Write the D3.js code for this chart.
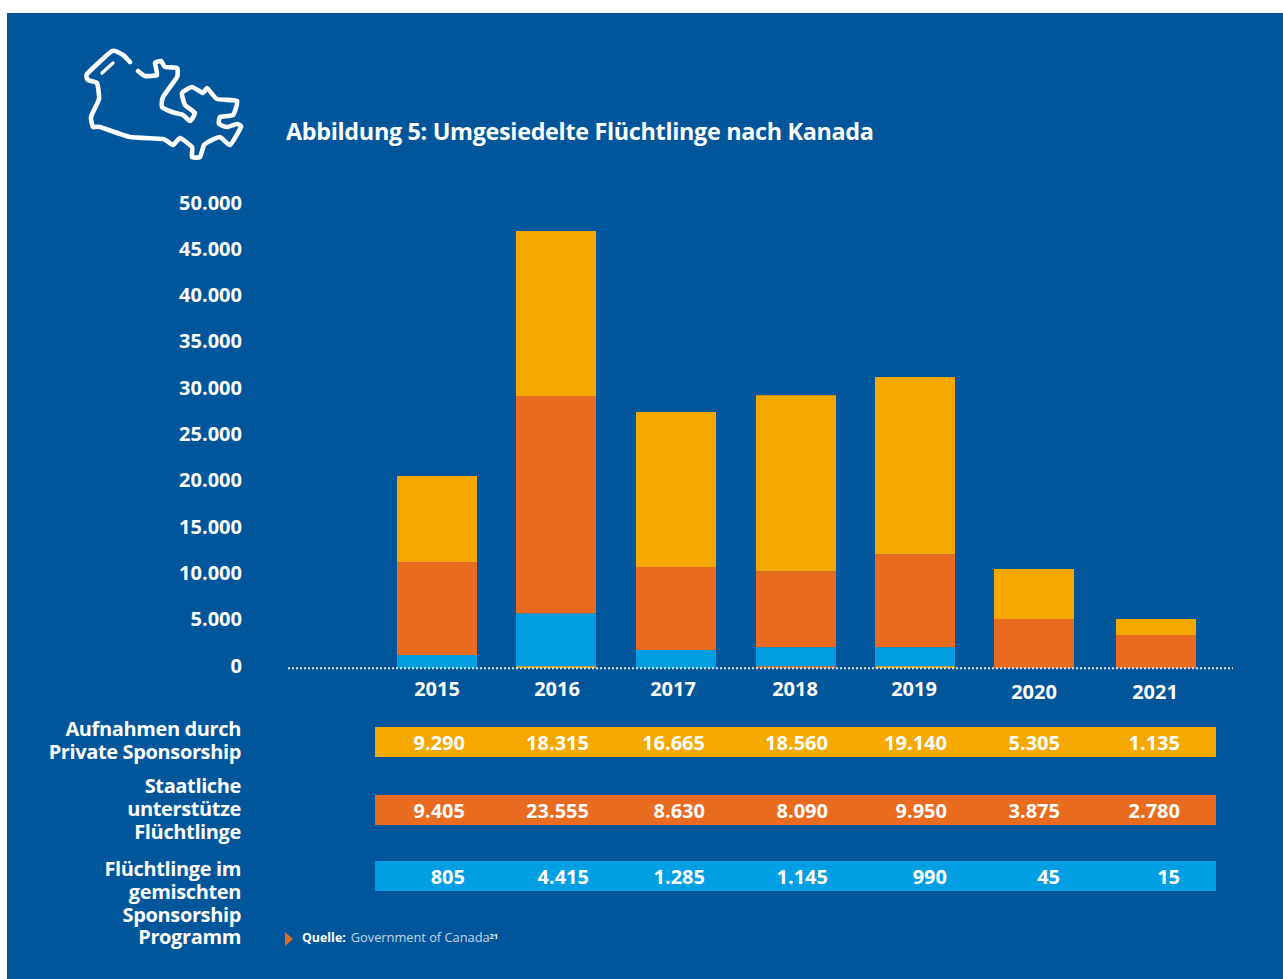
<!DOCTYPE html>
<html><head><meta charset="utf-8">
<script src="https://cdn.jsdelivr.net/npm/d3@7/dist/d3.min.js"></script>
<style>html,body{margin:0;padding:0;background:#fff}svg{display:block}text{font-family:"Open Sans",sans-serif}</style>
</head><body><svg id="c" width="1283" height="979"></svg>
<script>
const years = ["2015","2016","2017","2018","2019","2020","2021"];
const yTicks = [0,5000,10000,15000,20000,25000,30000,35000,40000,45000,50000];
// Heights of the drawn bars (they differ from the table)
const barSliverYellow = [0,200,0,0,200,0,0];
const barSliverOrange = [0,0,0,200,0,0,0];
const barBlue   = [1400,5700,1950,2050,2050,0,0];
const barOrange = [10040,23470,8960,8210,10050,5290,3560];
const barYellow = [9290,17820,16740,19000,19120,5400,1730];
// Table values
const tablePrivate = ["9.290","18.315","16.665","18.560","19.140","5.305","1.135"];
const tableState   = ["9.405","23.555","8.630","8.090","9.950","3.875","2.780"];
const tableMixed   = ["805","4.415","1.285","1.145","990","45","15"];
const rowLabels = [
  ["Aufnahmen durch","Private Sponsorship"],
  ["Staatliche","unterstütze","Flüchtlinge"],
  ["Flüchtlinge im","gemischten","Sponsorship","Programm"]];
const title = "Abbildung 5: Umgesiedelte Flüchtlinge nach Kanada";
const mapOutline = [[130,62],[123,55],[112,51],[87,74],[88,80],[97,83],[99,99],[91,117],[93,127],[100,127],[130,137],[163,139],[173,145],[180,138],[192,147],[192,157],[200,157],[204,145],[210,141],[220,137],[230,145],[241,127],[237,124],[227,127],[219,124],[220,117],[233,115],[237,101],[217,99],[207,88],[203,93],[192,87],[182,93],[185,105],[195,113],[190,121],[183,115],[172,112],[162,107],[163,97],[177,77],[177,68],[165,67],[161,61],[155,63],[157,75],[145,76],[138,71]];
const mapDash = [[102,73],[113,63]];

const C = {bg:"#00569a",yellow:"#f5a800",orange:"#e96b20",blue:"#009fe3"};
const svg = d3.select("#c");
svg.append("rect").attr("x",7).attr("y",13).attr("width",1276).attr("height",966).attr("fill",C.bg);

const x = d3.scaleOrdinal(years,[397,516,636,756,875,994,1116]);
const barWidth = 80;
const y = d3.scaleLinear().domain([0,50000]).range([668,205]);
const rightEdge = d3.scaleOrdinal(years,[465,589,705,828,947,1060,1180]);
const yearCenter = d3.scaleOrdinal(years,[437,557,673,795,914,1034,1155]);
const yearBase = d3.scaleOrdinal(years,[696,696,696,696,696,699,699]);

// icon
const ln = d3.line().curve(d3.curveCardinal.tension(0.55));
const icon = svg.append("g").attr("fill","none").attr("stroke","#fff").attr("stroke-width",4.6).attr("stroke-linecap","round").attr("stroke-linejoin","round");
icon.append("path").attr("d",ln(mapOutline));
icon.append("path").attr("d",ln(mapDash)).attr("stroke-width",3.4);

svg.append("text").attr("x",286).attr("y",140).attr("fill","#fff").attr("font-weight",700).attr("font-size",23.4).attr("letter-spacing",-0.33).text(title);

// y axis
const yAxis = d3.axisLeft(y).tickValues(yTicks).tickSize(0).tickPadding(0)
  .tickFormat(d=>d3.format(",")(d).replace(/,/g,"."));
const yg = svg.append("g").attr("transform","translate(242,0)").call(yAxis);
yg.select(".domain").remove();
yg.selectAll("text").attr("fill","#fff").attr("font-size",20).attr("font-weight",700)
  .attr("dy",null).attr("y",4);

// bars
const keys = ["sy","so","b","o","yy"];
const colors = {sy:C.yellow,so:C.orange,b:C.blue,o:C.orange,yy:C.yellow};
const rows = years.map((yr,i)=>({yr,sy:barSliverYellow[i],so:barSliverOrange[i],b:barBlue[i],o:barOrange[i],yy:barYellow[i]}));
svg.append("g").selectAll("g").data(d3.stack().keys(keys)(rows)).join("g")
  .attr("fill",s=>colors[s.key])
  .selectAll("rect").data(s=>s).join("rect")
  .attr("x",d=>x(d.data.yr)).attr("width",barWidth)
  .attr("y",d=>y(d[1])).attr("height",d=>y(d[0])-y(d[1]));

// dotted baseline
svg.append("line").attr("x1",288).attr("x2",1233).attr("y1",y(0)+0.3).attr("y2",y(0)+0.3)
  .attr("stroke","#dfe8f1").attr("stroke-width",2).attr("stroke-dasharray","2 2");

// year labels
svg.append("g").selectAll("text").data(years).join("text")
  .attr("x",d=>yearCenter(d)).attr("y",d=>yearBase(d)).attr("text-anchor","middle")
  .attr("fill","#fff").attr("font-size",20).attr("font-weight",700).text(d=>d);

// table rows
const table = [
  {vals:tablePrivate,color:C.yellow,top:727,labelY:[736,759]},
  {vals:tableState,color:C.orange,top:795,labelY:[793,816,839]},
  {vals:tableMixed,color:C.blue,top:861,labelY:[876,899,922,944]}];
table.forEach((r,ri)=>{
  svg.append("rect").attr("x",375).attr("y",r.top).attr("width",841).attr("height",30).attr("fill",r.color);
  svg.append("g").selectAll("text").data(r.vals).join("text")
    .attr("x",(d,i)=>rightEdge(years[i])).attr("y",r.top+23).attr("text-anchor","end")
    .attr("fill","#fff").attr("font-size",20).attr("font-weight",700).text(d=>d);
  svg.append("g").selectAll("text").data(rowLabels[ri]).join("text")
    .attr("x",241).attr("y",(d,i)=>r.labelY[i]).attr("text-anchor","end")
    .attr("fill","#fff").attr("font-size",20).attr("font-weight",700).attr("letter-spacing",-0.37).text(d=>d);
});

// source
svg.append("path").attr("d","M285,932L293,939L285,946Z").attr("fill",C.orange);
const src = svg.append("text").attr("x",302).attr("y",942).attr("font-size",12.8).attr("fill","#c4d8ea");
src.append("tspan").attr("font-weight",700).attr("fill","#fff").attr("font-size",12.4).text("Quelle:");
src.append("tspan").attr("dx",5).text("Government of Canada");
src.append("tspan").attr("font-weight",700).attr("fill","#fff").attr("font-size",7.5).attr("dy",-3.5).text("21");
</script></body></html>
